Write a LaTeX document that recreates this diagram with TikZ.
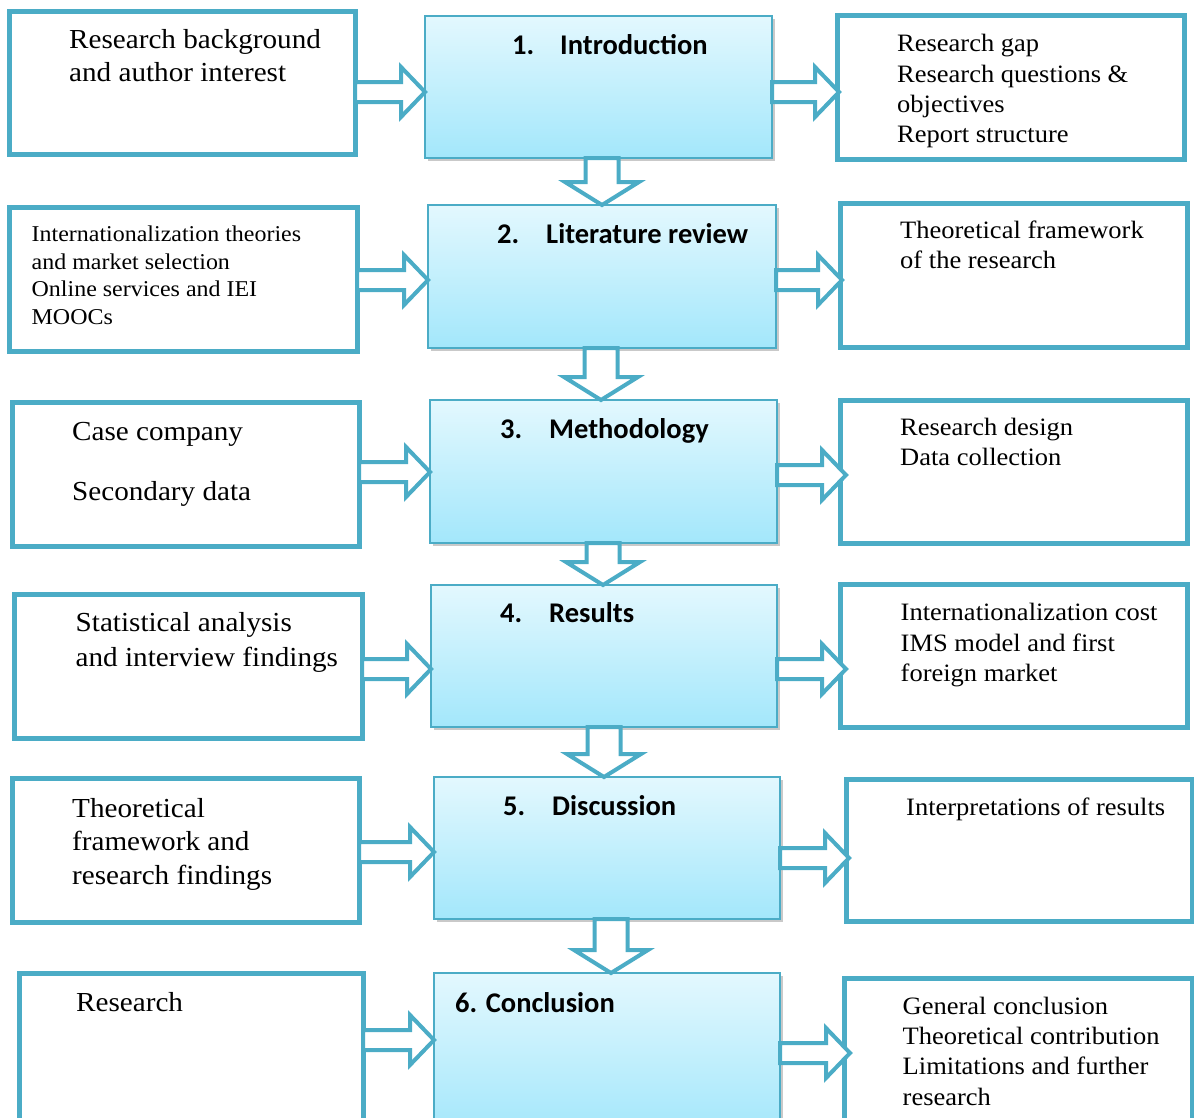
\documentclass[tikz,border=0pt]{standalone}
\usepackage{fontspec}
\setmainfont{Liberation Serif}[FakeStretch=1.06]
\newfontfamily\headfont{Carlito}
\usetikzlibrary{calc,shadows}
\definecolor{bord}{HTML}{4BACC6}
\definecolor{gtop}{HTML}{E3F8FE}
\definecolor{gbot}{HTML}{A3E7FB}
\newcommand\fl{\rule{0pt}{21pt}}
\newcommand\boxat[6]{\node[#1, minimum width={#4-#2}, minimum height={#5-#3}] (#6) at ({(#2+#4)/2},{-(#3+#5)/2}) {};}
\newcommand\rarr[4]{%
  \draw[blk] let \p1=(#1.east), \p2=(#2.west), \p3=(0,-#3) in
  (\x1,\y3+10pt) -- (\x2+#4pt-24pt,\y3+10pt) -- (\x2+#4pt-24pt,\y3+25pt) -- (\x2+#4pt,\y3)
  -- (\x2+#4pt-24pt,\y3-25pt) -- (\x2+#4pt-24pt,\y3-10pt) -- (\x1,\y3-10pt) -- cycle;}
\newcommand\darr[3]{%
  \draw[blk] let \p1=(#1.south), \p2=(#2.north), \p3=(#3,0) in
  (\x3-16.5pt,\y1) -- (\x3-16.5pt,\y2+23pt) -- (\x3-37pt,\y2+23pt) -- (\x3,\y2)
  -- (\x3+37pt,\y2+23pt) -- (\x3+16.5pt,\y2+23pt) -- (\x3+16.5pt,\y1) -- cycle;}
\tikzset{
  side/.style={draw=bord, line width=5pt, fill=white, inner sep=0pt, outer sep=0pt},
  mid/.style={draw=bord, line width=2.5pt, top color=gtop, bottom color=gbot, inner sep=0pt, outer sep=0pt,
    drop shadow={shadow xshift=2.5pt, shadow yshift=-3pt, opacity=0.3, fill=black!70}},
  blk/.style={draw=bord, line width=4pt, fill=white, line join=miter},
  txt/.style={anchor=north west, inner sep=0pt, align=left},
  Lf/.style={txt, font=\fontsize{27.5}{33.3}\selectfont},
  Mf/.style={txt, font=\fontsize{25}{30.3}\selectfont},
  Sf/.style={txt, font=\fontsize{22.6}{27.5}\selectfont},
  hd/.style={anchor=base west, inner sep=0pt, font=\headfont\bfseries\fontsize{28.5}{34}\selectfont}
}
\begin{document}
\begin{tikzpicture}[x=1pt,y=1pt]
\useasboundingbox (0,0) rectangle (1194,-1117);
\clip (0,0) rectangle (1194,-1117);
% boxes
\boxat{side}{9.5}{11.5}{355}{154}{L1}
\boxat{mid}{425}{16}{772}{158}{C1}
\boxat{side}{837}{15}{1184}{159}{R1}
\boxat{side}{9}{207}{357}{351}{L2}
\boxat{mid}{428}{205}{776}{348}{C2}
\boxat{side}{840}{203}{1187}{347}{R2}
\boxat{side}{12}{402}{359}{546}{L3}
\boxat{mid}{430}{400}{777}{543}{C3}
\boxat{side}{840}{400}{1187}{543}{R3}
\boxat{side}{14.5}{594}{362}{738}{L4}
\boxat{mid}{431}{585}{777}{727}{C4}
\boxat{side}{840}{584}{1187}{727}{R4}
\boxat{side}{12}{778}{359}{922}{L5}
\boxat{mid}{434}{777}{780}{919}{C5}
\boxat{side}{846}{779}{1192}{921}{R5}
\boxat{side}{19}{973}{363}{1135}{L6}
\boxat{mid}{434}{973}{780}{1135}{C6}
\boxat{side}{844}{978}{1192}{1135}{R6}
% arrows
\rarr{L1}{C1}{92}{0}
\rarr{C1}{R1}{92}{2}
\rarr{L2}{C2}{280}{0}
\rarr{C2}{R2}{280}{2}
\rarr{L3}{C3}{472}{0}
\rarr{C3}{R3}{475}{6}
\rarr{L4}{C4}{669}{0}
\rarr{C4}{R4}{669}{6}
\rarr{L5}{C5}{852}{0}
\rarr{C5}{R5}{858}{3}
\rarr{L6}{C6}{1040}{0}
\rarr{C6}{R6}{1053}{6}
\darr{C1}{C2}{602}
\darr{C2}{C3}{601}
\darr{C3}{C4}{603}
\darr{C4}{C5}{604}
\darr{C5}{C6}{611}
% headings
\node[hd] (n1) at (512,-54) {1.};
\node[hd] (h1) at (560,-54) {Introduction};
\node[hd] (n2) at (497,-243) {2.};
\node[hd] (h2) at (546,-243) {Literature review};
\node[hd] (n3) at (500,-438) {3.};
\node[hd] (h3) at (549,-438) {Methodology};
\node[hd] (n4) at (500,-622) {4.};
\node[hd] (h4) at (549,-622) {Results};
\node[hd] (n5) at (503,-815) {5.};
\node[hd] (h5) at (552,-815) {Discussion};
\node[hd] (h6) at (455,-1012) {6. Conclusion};
% side texts
\node[Lf] (t1l) at (69,-27) {\fl Research background\\and author interest};
\node[Mf] (t1r) at (897,-30.7) {\fl Research gap\\Research questions \&\\objectives\\Report structure};
\node[Sf] (t2l) at (31.5,-220.7) {\fl Internationalization theories\\and market selection\\Online services and IEI\\MOOCs};
\node[Mf] (t2r) at (900,-217.3) {\fl Theoretical framework\\of the research};
\node[Lf] (t3l) at (72,-419) {\fl Case company\\[27.4pt]Secondary data};
\node[Mf] (t3r) at (900,-414) {\fl Research design\\Data collection};
\node[Lf, font=\fontsize{27.5}{34.5}\selectfont] (t4l) at (75.5,-610.7) {\fl Statistical analysis\\and interview findings};
\node[Mf] (t4r) at (900.5,-599.7) {\fl Internationalization cost\\IMS model and first\\foreign market};
\node[Lf] (t5l) at (72,-796.3) {\fl Theoretical\\framework and\\research findings};
\node[Mf] (t5r) at (906,-794) {\fl Interpretations of results};
\node[Lf] (t6l) at (76,-990.7) {\fl Research};
\node[Mf] (t6r) at (902.5,-993) {\fl General conclusion\\Theoretical contribution\\Limitations and further\\research};
\end{tikzpicture}
\end{document}
